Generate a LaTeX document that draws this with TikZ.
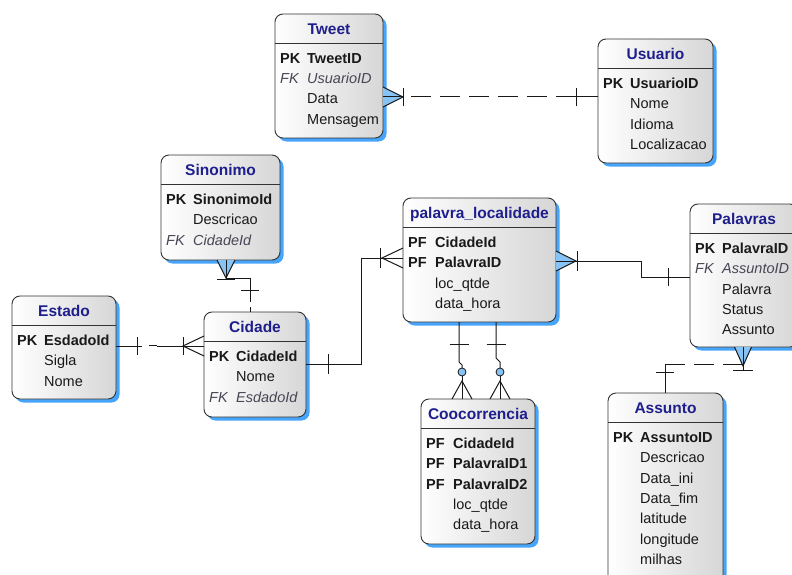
\documentclass[tikz,border=0pt]{standalone}
\usepackage{fontspec}
\setmainfont{Liberation Sans}
\usetikzlibrary{calc,shadows}

\definecolor{shadowblue}{RGB}{70,165,250}
\definecolor{crowblue}{RGB}{135,195,245}
\definecolor{titleblue}{RGB}{30,30,140}
\definecolor{fkgray}{RGB}{70,70,85}
\definecolor{ink}{RGB}{25,25,25}

\tikzset{
  entity/.style={draw=black!80, line width=0.9pt, rounded corners=8pt,
    left color=white, right color=black!16,
    drop shadow={shadow xshift=3.5pt, shadow yshift=-3.5pt, fill=shadowblue, opacity=1},
    inner sep=0pt, outer sep=0pt},
  etitle/.style={font=\fontsize{15.5}{18}\selectfont\bfseries, text=titleblue, inner sep=0pt, anchor=base},
  keytag/.style={font=\fontsize{14.5}{17}\selectfont\bfseries, text=ink, anchor=base west, inner sep=0pt},
  fktag/.style={font=\fontsize{14.5}{17}\selectfont\itshape, text=fkgray, anchor=base west, inner sep=0pt},
  plainfield/.style={font=\fontsize{14.5}{17}\selectfont, text=ink, anchor=base west, inner sep=0pt},
  rel/.style={draw=ink, line width=1pt},
  reldash/.style={rel, dash pattern=on 20pt off 9pt},
  optcircle/.style={draw=ink, line width=0.8pt, fill=crowblue},
}

% entity box: name, x, y, width, height, title
\newcommand{\erbox}[6]{%
  \node[entity, minimum width=#4pt, minimum height=#5pt, anchor=north west] (#1) at (#2,#3) {};
  \node[etitle] (#1-title) at ($(#1.north)+(0,20.5)$) {#6};
  \draw[line width=0.9pt, draw=black!80] ($(#1.north west)+(0,29.5)$) -- ($(#1.north east)+(0,29.5)$);
}
% keyed field: box, row, tag style, tag, name style, name
\newcommand{\erkey}[6]{%
  \node[#3] (#1-tag#2) at ($(#1.north west)+(5,{49.2+20.4*(#2-1)})$) {#4};
  \node[#5] (#1-f#2) at ($(#1.north west)+(32,{49.2+20.4*(#2-1)})$) {#6};
}
% plain field: box, row, name
\newcommand{\erplain}[3]{%
  \node[plainfield] (#1-f#2) at ($(#1.north west)+(32,{49.2+20.4*(#2-1)})$) {#3};
}

\begin{document}
\begin{tikzpicture}[x=1pt, y=-1pt]
\useasboundingbox (0,0) rectangle (792,575);
\clip (0,0) rectangle (792,575);
\fill[white] (0,0) rectangle (792,575);

% ---------- entities ----------
\erbox{tweet}{275}{14}{108}{124}{Tweet}
\erkey{tweet}{1}{keytag}{PK}{keytag}{TweetID}
\erkey{tweet}{2}{fktag}{FK}{fktag}{UsuarioID}
\erplain{tweet}{3}{Data}
\erplain{tweet}{4}{Mensagem}

\erbox{usuario}{598}{39}{115}{124}{Usuario}
\erkey{usuario}{1}{keytag}{PK}{keytag}{UsuarioID}
\erplain{usuario}{2}{Nome}
\erplain{usuario}{3}{Idioma}
\erplain{usuario}{4}{Localizacao}

\erbox{sinonimo}{161}{155}{119}{105}{Sinonimo}
\erkey{sinonimo}{1}{keytag}{PK}{keytag}{SinonimoId}
\erplain{sinonimo}{2}{Descricao}
\erkey{sinonimo}{3}{fktag}{FK}{fktag}{CidadeId}

\erbox{estado}{12}{296}{104}{103}{Estado}
\erkey{estado}{1}{keytag}{PK}{keytag}{EsdadoId}
\erplain{estado}{2}{Sigla}
\erplain{estado}{3}{Nome}

\erbox{cidade}{204}{312}{102}{105}{Cidade}
\erkey{cidade}{1}{keytag}{PK}{keytag}{CidadeId}
\erplain{cidade}{2}{Nome}
\erkey{cidade}{3}{fktag}{FK}{fktag}{EsdadoId}

\erbox{pl}{403}{198}{153}{124}{palavra\_localidade}
\erkey{pl}{1}{keytag}{PF}{keytag}{CidadeId}
\erkey{pl}{2}{keytag}{PF}{keytag}{PalavraID}
\erplain{pl}{3}{loc\_qtde}
\erplain{pl}{4}{data\_hora}

\erbox{palavras}{690}{204}{108}{143}{Palavras}
\erkey{palavras}{1}{keytag}{PK}{keytag}{PalavraID}
\erkey{palavras}{2}{fktag}{FK}{fktag}{AssuntoID}
\erplain{palavras}{3}{Palavra}
\erplain{palavras}{4}{Status}
\erplain{palavras}{5}{Assunto}

\erbox{cooc}{421}{399}{114}{145}{Coocorrencia}
\erkey{cooc}{1}{keytag}{PF}{keytag}{CidadeId}
\erkey{cooc}{2}{keytag}{PF}{keytag}{PalavraID1}
\erkey{cooc}{3}{keytag}{PF}{keytag}{PalavraID2}
\erplain{cooc}{4}{loc\_qtde}
\erplain{cooc}{5}{data\_hora}

\erbox{assunto}{608}{393}{115}{195}{Assunto}
\erkey{assunto}{1}{keytag}{PK}{keytag}{AssuntoID}
\erplain{assunto}{2}{Descricao}
\erplain{assunto}{3}{Data\_ini}
\erplain{assunto}{4}{Data\_fim}
\erplain{assunto}{5}{latitude}
\erplain{assunto}{6}{longitude}
\erplain{assunto}{7}{milhas}

% ---------- Tweet -- Usuario ----------
\coordinate (tw-e) at ($(tweet.north east)+(0,83)$);
\coordinate (us-w) at ($(usuario.north west)+(0,58)$);
\coordinate (tw-apex) at ($(tw-e)+(20,0)$);
\fill[crowblue] ($(tw-e)+(0,-10)$) -- (tw-apex) -- ($(tw-e)+(0,10)$) -- cycle;
\draw[rel] ($(tw-e)+(0,-10)$) -- (tw-apex) -- ($(tw-e)+(0,10)$);
\draw[rel] (tw-e) -- (tw-apex);
\draw[rel] ($(tw-apex)+(0,-9)$) -- ($(tw-apex)+(0,9)$);
\draw[reldash] ($(tw-apex)+(8,0)$) -- ($(us-w)+(-22,0)$);
\draw[rel] ($(us-w)+(-22,-9)$) -- ($(us-w)+(-22,9)$);
\draw[rel] ($(us-w)+(-22,0)$) -- (us-w);

% ---------- Sinonimo -- Cidade ----------
\coordinate (si-s) at ($(sinonimo.south west)+(65,0)$);
\coordinate (ci-n) at ($(cidade.north west)+(46,0)$);
\coordinate (si-apex) at ($(si-s)+(0,18)$);
\fill[crowblue] ($(si-s)+(-9,0)$) -- (si-apex) -- ($(si-s)+(9,0)$) -- cycle;
\draw[rel] ($(si-s)+(-9,0)$) -- (si-apex) -- ($(si-s)+(9,0)$);
\draw[rel] (si-s) -- (si-apex);
\draw[rel] ($(si-apex)+(-9,1)$) -- ($(si-apex)+(9,1)$);
\draw[rel] (si-apex) -| ($(ci-n)+(0,-10)$);
\draw[rel] ($(ci-n)+(0,-5)$) -- (ci-n);
\draw[rel] ($(ci-n)+(-9,-22)$) -- ($(ci-n)+(9,-22)$);

% ---------- Estado -- Cidade ----------
\coordinate (es-e) at ($(estado.north east)+(0,50)$);
\coordinate (ci-w) at ($(cidade.north west)+(0,34)$);
\draw[rel] (es-e) -- ++(26,0);
\draw[rel] ($(es-e)+(21,-9)$) -- ($(es-e)+(21,9)$);
\draw[rel] ($(es-e)+(33,-1)$) -- ($(es-e)+(41,-1)$);
\draw[rel] ($(es-e)+(41,0)$) -- (ci-w);
\draw[rel] ($(ci-w)+(-21,-9)$) -- ($(ci-w)+(-21,9)$);
\draw[rel] ($(ci-w)+(0,-10)$) -- ($(ci-w)+(-21,0)$) -- ($(ci-w)+(0,10)$);

% ---------- Cidade -- palavra_localidade ----------
\coordinate (ci-e) at ($(cidade.north east)+(0,52)$);
\coordinate (pl-w) at ($(pl.north west)+(0,60)$);
\draw[rel] (ci-e) -- ++(55,0) |- (pl-w);
\draw[rel] ($(ci-e)+(22,-10)$) -- ($(ci-e)+(22,10)$);
\draw[rel] ($(pl-w)+(-23,-10)$) -- ($(pl-w)+(-23,10)$);
\draw[rel] ($(pl-w)+(0,-10)$) -- ($(pl-w)+(-21,0)$) -- ($(pl-w)+(0,10)$);

% ---------- palavra_localidade -- Palavras ----------
\coordinate (pl-e) at ($(pl.north east)+(0,63)$);
\coordinate (pa-w) at ($(palavras.north west)+(0,73)$);
\coordinate (pl-apex) at ($(pl-e)+(20,0)$);
\fill[crowblue] ($(pl-e)+(0,-10)$) -- (pl-apex) -- ($(pl-e)+(0,10)$) -- cycle;
\draw[rel] ($(pl-e)+(0,-10)$) -- (pl-apex) -- ($(pl-e)+(0,10)$);
\draw[rel] (pl-e) -- ++(85,0) |- (pa-w);
\draw[rel] ($(pl-apex)+(1,-10)$) -- ($(pl-apex)+(1,10)$);
\draw[rel] ($(pa-w)+(-22,-9)$) -- ($(pa-w)+(-22,9)$);

% ---------- Palavras -- Assunto ----------
\coordinate (pa-s) at ($(palavras.south west)+(53,0)$);
\coordinate (as-n) at ($(assunto.north west)+(57,0)$);
\coordinate (pa-apex) at ($(pa-s)+(0,19)$);
\fill[crowblue] ($(pa-s)+(-8.5,0)$) -- (pa-apex) -- ($(pa-s)+(8.5,0)$) -- cycle;
\draw[rel] ($(pa-s)+(-8.5,0)$) -- (pa-apex) -- ($(pa-s)+(8.5,0)$);
\draw[rel] (pa-s) -- ($(pa-s)+(0,23)$);
\draw[rel] ($(pa-s)+(-10,23)$) -- ($(pa-s)+(10,23)$);
\draw[reldash] ($(as-n)+(0,-29)$) -- ($(pa-s)+(0,17)$);
\draw[rel] ($(as-n)+(0,-29)$) -- (as-n);
\draw[rel] ($(as-n)+(-9,-21)$) -- ($(as-n)+(9,-21)$);

% ---------- palavra_localidade -- Coocorrencia (two links) ----------
\coordinate (pl-s1) at ($(pl.south west)+(56,0)$);
\coordinate (co-n1) at ($(cooc.north west)+(41,0)$);
\draw[rel] (pl-s1) -- ++(0,40) -- ($(co-n1)+(0,-34)$) -- ($(co-n1)+(0,-31)$);
\draw[rel] ($(pl-s1)+(-9.5,22)$) -- ($(pl-s1)+(9.5,22)$);
\draw[optcircle] ($(co-n1)+(0,-27)$) circle (4);
\draw[rel] ($(co-n1)+(0,-23)$) -- (co-n1);
\draw[rel] ($(co-n1)+(-10,0)$) -- ($(co-n1)+(0,-18)$) -- ($(co-n1)+(10,0)$);

\coordinate (pl-s2) at ($(pl.south west)+(93,0)$);
\coordinate (co-n2) at ($(cooc.north west)+(79,0)$);
\draw[rel] (pl-s2) -- ++(0,36) -- ($(co-n2)+(0,-37)$) -- ($(co-n2)+(0,-31)$);
\draw[rel] ($(pl-s2)+(-9.5,22)$) -- ($(pl-s2)+(9.5,22)$);
\draw[optcircle] ($(co-n2)+(0,-27)$) circle (4);
\draw[rel] ($(co-n2)+(0,-23)$) -- (co-n2);
\draw[rel] ($(co-n2)+(-10,0)$) -- ($(co-n2)+(0,-18)$) -- ($(co-n2)+(10,0)$);
\end{tikzpicture}
\end{document}
